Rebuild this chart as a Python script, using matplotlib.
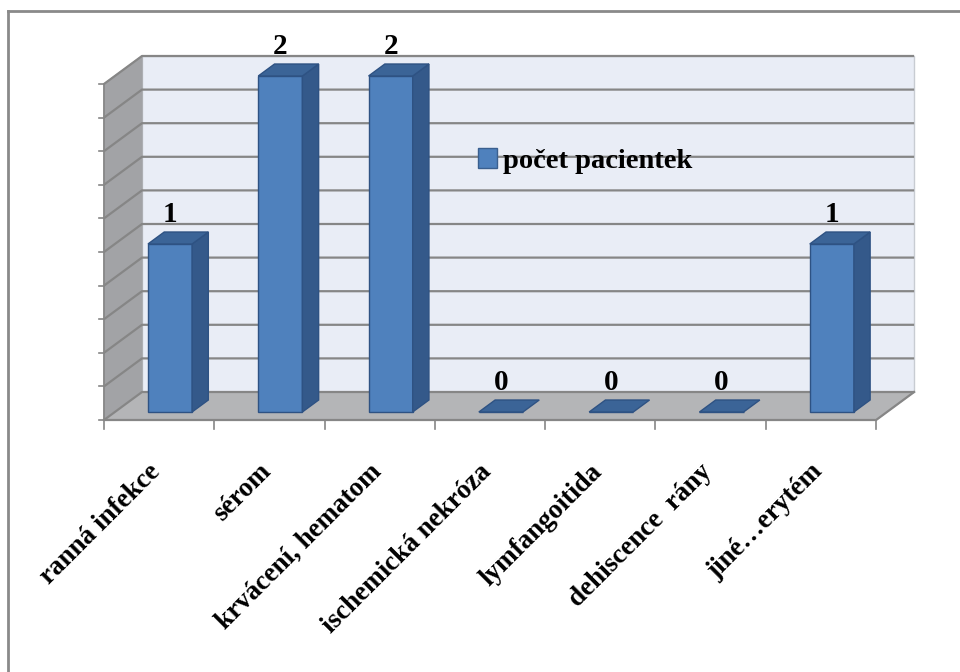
import numpy as np
import matplotlib
matplotlib.use("Agg")
import matplotlib.pyplot as plt
from matplotlib.patches import Polygon, Patch
from matplotlib.lines import Line2D

categories = ["ranná infekce", "sérom", "krvácení, hematom", "ischemická nekróza",
              "lymfangoitida", "dehiscence  rány", "jiné…erytém"]
pacientky = [1, 2, 2, 0, 0, 0, 1]
series_name = "počet pacientek"
y_max = 2
y_step = 0.2

plt.rcParams['font.family'] = ['Liberation Serif', 'DejaVu Serif']
plt.rcParams['font.weight'] = 'bold'

W, H = 960, 672
fig = plt.figure(figsize=(9.6, 6.72), dpi=100)
ax = fig.add_axes([0, 0, 1, 1])

# one x unit = one category, one y unit = one patient
px_x = 110.3
px_y = 168.0
x0_px, y0_px = 104, 420   # front-left corner of the floor
ax.set_xlim(-x0_px / px_x, (W - x0_px) / px_x)
ax.set_ylim(-(H - y0_px) / px_y, y0_px / px_y)
ax.axis('off')

n = len(categories)
DX, DY = 38 / px_x, 28 / px_y      # full depth of the 3d box
grid_col = '#868686'

# walls and floor
ax.add_patch(Polygon([(DX, DY), (n + DX, DY), (n + DX, y_max + DY), (DX, y_max + DY)],
                     closed=True, facecolor='#E9EDF6', edgecolor='#C8CCD2', lw=1, zorder=1))
ax.add_patch(Polygon([(0, 0), (DX, DY), (DX, y_max + DY), (0, y_max)],
                     closed=True, facecolor='#A2A3A6', edgecolor='#A2A3A6', lw=1, zorder=1))
ax.add_patch(Polygon([(0, 0), (n, 0), (n + DX, DY), (DX, DY)],
                     closed=True, facecolor='#B4B5B7', edgecolor='#B4B5B7', lw=1, zorder=1))

for v in np.arange(0, y_max + 1e-9, y_step):
    ax.plot([0, DX, n + DX], [v, v + DY, v + DY], color=grid_col, lw=1.6, zorder=2,
            solid_capstyle='butt')
    # small tick on the value axis
    ax.plot([-5 / px_x, 0], [v, v], color=grid_col, lw=1.2, zorder=2)

# axes lines
ax.plot([0, 0], [0, y_max], color=grid_col, lw=1.2, zorder=2)
ax.plot([0, n, n + DX], [0, 0, DY], color=grid_col, lw=1.6, zorder=2)
for i in range(n + 1):
    ax.plot([i, i], [0, -9 / px_y], color=grid_col, lw=1.2, zorder=2)

# bars
d_front, d_back = 0.286, 0.714
dd = d_back - d_front
bw = 0.4
xs = np.arange(n) + 0.5 + d_front * DX
base = d_front * DY
front_col, side_col, top_col, edge_col = '#4F81BD', '#34598A', '#3B6497', '#2E5283'

ax.bar(xs, pacientky, width=bw, bottom=base, color=front_col, edgecolor=edge_col,
       lw=1, zorder=4)
for x, v in zip(xs, pacientky):
    xl, xr = x - bw / 2, x + bw / 2
    top = base + v
    if v > 0:
        ax.add_patch(Polygon([(xr, base), (xr + dd * DX, base + dd * DY),
                              (xr + dd * DX, top + dd * DY), (xr, top)],
                             closed=True, facecolor=side_col, edgecolor=edge_col, lw=1, zorder=4))
    ax.add_patch(Polygon([(xl, top), (xr, top), (xr + dd * DX, top + dd * DY),
                          (xl + dd * DX, top + dd * DY)],
                         closed=True, facecolor=top_col, edgecolor=edge_col, lw=1, zorder=5))
    ax.annotate(str(v), (x, top + dd * DY), xytext=(0, 3), textcoords='offset points',
                ha='center', va='bottom', fontsize=21, fontweight='bold', zorder=6)

# category labels
for i, lab in enumerate(categories):
    ax.text(i + 0.40, -39 / px_y, lab, rotation=45, rotation_mode='anchor',
            ha='right', va='top', fontsize=19.5, fontweight='bold')

# legend
fig.legend(handles=[Patch(facecolor=front_col, edgecolor='#3A5F8F')], labels=[series_name],
           loc='center left', bbox_to_anchor=(478 / W, 1 - 161 / H), frameon=False,
           handlelength=0.68, handleheight=0.68, handletextpad=0.2, borderpad=0,
           borderaxespad=0, prop={'size': 20.5, 'weight': 'bold'})

# chart border (only top and left visible)
fig.add_artist(Line2D([8 / W, 8 / W], [0, 1 - 11 / H], transform=fig.transFigure,
                      color='#8A8A8A', lw=2))
fig.add_artist(Line2D([8 / W, 1], [1 - 11 / H, 1 - 11 / H], transform=fig.transFigure,
                      color='#8A8A8A', lw=2))

fig.savefig('out.png', dpi=100)
